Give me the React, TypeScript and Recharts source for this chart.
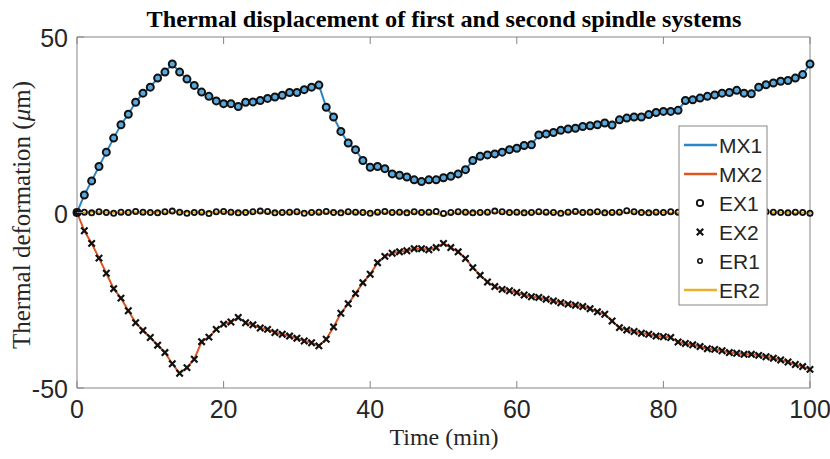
import React from 'react'
import { LineChart, Line, XAxis, YAxis } from 'recharts'

// time in minutes
const time = [
  0, 1, 2, 3, 4, 5, 6, 7, 8, 9,
  10, 11, 12, 13, 14, 15, 16, 17, 18, 19,
  20, 21, 22, 23, 24, 25, 26, 27, 28, 29,
  30, 31, 32, 33, 34, 35, 36, 37, 38, 39,
  40, 41, 42, 43, 44, 45, 46, 47, 48, 49,
  50, 51, 52, 53, 54, 55, 56, 57, 58, 59,
  60, 61, 62, 63, 64, 65, 66, 67, 68, 69,
  70, 71, 72, 73, 74, 75, 76, 77, 78, 79,
  80, 81, 82, 83, 84, 85, 86, 87, 88, 89,
  90, 91, 92, 93, 94, 95, 96, 97, 98, 99, 100,
]

const mx1 = [
  0, 5.0, 9.0, 13.1, 17.2, 21.2, 25.0, 28.0, 31.4, 34.0,
  35.7, 38.3, 40.0, 42.3, 40.0, 38.0, 36.2, 34.3, 33.1, 31.8,
  31.0, 31.0, 30.2, 31.4, 31.5, 31.9, 32.5, 32.9, 33.4, 34.2,
  34.2, 35.0, 35.7, 36.3, 30.0, 27.2, 23.1, 19.8, 17.9, 14.8,
  12.9, 13.1, 12.5, 11.0, 10.6, 10.1, 9.3, 8.8, 9.3, 9.3,
  9.9, 10.3, 11.0, 12.2, 14.8, 16.0, 16.4, 16.7, 17.2, 17.9,
  18.3, 19.1, 19.3, 22.1, 22.4, 22.8, 23.4, 23.8, 24.0, 24.5,
  24.7, 25.0, 25.5, 24.9, 26.4, 26.9, 27.2, 27.2, 27.9, 28.5,
  28.8, 28.8, 29.1, 31.9, 32.1, 32.6, 33.1, 33.5, 34.0, 34.2,
  34.8, 34.0, 33.8, 35.7, 36.4, 36.9, 37.4, 37.6, 38.3, 39.3, 42.3,
]

const mx2 = [
  0, -5.2, -8.8, -13.0, -17.3, -21.7, -24.4, -28.0, -31.4, -33.6,
  -35.6, -37.8, -39.9, -43.1, -45.8, -44.2, -41.8, -36.8, -35.5, -33.3,
  -31.8, -31.2, -29.9, -31.4, -32.0, -32.9, -33.3, -34.2, -34.7, -35.2,
  -35.8, -36.6, -37.1, -38.0, -36.1, -32.6, -28.7, -26.0, -23.1, -20.0,
  -17.6, -14.3, -12.5, -11.6, -11.2, -10.9, -10.3, -10.3, -10.6, -10.0,
  -8.8, -10.0, -11.2, -13.1, -15.7, -17.9, -19.8, -21.1, -21.9, -22.3,
  -22.8, -23.5, -24.0, -24.2, -24.7, -25.2, -25.7, -26.1, -26.4, -26.8,
  -27.4, -28.3, -29.0, -30.9, -32.8, -33.5, -33.9, -34.4, -34.7, -35.2,
  -35.4, -35.6, -36.9, -37.3, -37.7, -38.2, -38.8, -39.0, -39.4, -39.9,
  -40.1, -40.4, -40.4, -40.7, -41.1, -41.5, -42.0, -42.6, -43.3, -43.9, -44.7,
]

// measured points sit on the model curves
const ex1 = mx1
const ex2 = mx2

const er1 = [
  0, 0.1, -0.1, 0.2, 0, -0.2, 0.1, 0, 0.3, 0.1,
  0, -0.1, 0.2, 0.4, 0.1, -0.2, 0, 0.1, -0.3, 0.2,
  0.3, 0.1, -0.1, 0, 0.2, 0.4, 0.3, -0.1, 0, 0.1,
  0.2, -0.2, 0, 0.1, 0.3, 0, -0.1, 0.2, 0.1, 0,
  -0.2, 0.1, 0.3, 0, 0.1, -0.1, 0.2, 0, 0.1, 0.3,
  -0.3, 0, 0.2, 0.1, -0.1, 0, 0.1, 0.4, 0.2, 0,
  0.1, -0.1, 0, 0.2, 0.1, 0, -0.2, 0.1, 0.3, 0,
  0.1, 0.2, -0.1, 0, 0.1, 0.5, 0.2, 0, -0.1, 0.1,
  0, 0.2, 0.1, -0.1, 0, 0.1, 0.2, 0, -0.2, 0.1,
  0, 0.1, -0.1, 0, 0.2, 0.1, 0, -0.1, 0.1, 0, -0.2,
]

const er2 = [
  0, 0, 0.1, 0.1, 0, -0.1, -0.1, 0, 0.1, 0.1,
  0.1, 0, 0, 0.1, 0.2, 0.1, 0, 0, 0.1, 0.1,
  0.2, 0.1, 0, 0, 0.1, 0.1, 0, 0, 0, 0.1,
  0.1, 0, -0.1, -0.1, 0, 0.1, 0.1, 0, 0, 0,
  -0.1, -0.1, 0, 0, 0.1, 0.1, 0, 0, -0.1, -0.4,
  -0.9, -0.3, 0, 0.1, 0.1, 0, 0, 0, 0.1, 0.1,
  0, 0, -0.1, -0.1, -0.2, -0.1, 0, 0, 0.1, 0.1,
  0, 0, 0, -0.1, 0, 0, 0.1, 0.1, 0, 0,
  0, -0.1, -0.1, 0, 0, 0.1, 0.1, 0, 0, 0,
  0, -0.1, -0.1, 0, 0.1, 0, 0, -0.1, -0.2, -0.1, 0,
]

const xTicks = [0, 20, 40, 60, 80, 100]
const yTicks = [-50, 0, 50]
const legendNames = ['MX1', 'MX2', 'EX1', 'EX2', 'ER1', 'ER2']

const data = time.map((t, i) => ({
  t,
  mx1: mx1[i],
  mx2: mx2[i],
  ex1: ex1[i],
  ex2: ex2[i],
  er1: er1[i],
  er2: er2[i],
}))

const BLUE = '#2b86c6'
const ORANGE = '#dc5522'
const YELLOW = '#eab02c'
const FRAME = '#858585'
const SANS = "'Liberation Sans', Arial, sans-serif"
const SERIF = "'Liberation Serif', 'Times New Roman', serif"

function AxisTick(props: any) {
  const { x, y, payload, side } = props
  if (side === 'bottom') {
    return (
      <g>
        <line x1={x} y1={y} x2={x} y2={y - 7} stroke={FRAME} />
        <text x={x} y={y + 30} textAnchor="middle" fontSize={25} fontFamily={SANS} fill="#262626">
          {payload.value}
        </text>
      </g>
    )
  }
  if (side === 'top') return <line x1={x} y1={y} x2={x} y2={y + 7} stroke={FRAME} />
  if (side === 'left') {
    return (
      <g>
        <line x1={x} y1={y} x2={x + 7} y2={y} stroke={FRAME} />
        <text x={x - 9} y={y + 10} textAnchor="end" fontSize={25} fontFamily={SANS} fill="#262626">
          {payload.value}
        </text>
      </g>
    )
  }
  return <line x1={x} y1={y} x2={x - 7} y2={y} stroke={FRAME} />
}

const XMark = (p: any) => {
  const s = 3.2
  return (
    <path
      key={`x-${p.index}`}
      d={`M${p.cx - s},${p.cy - s}L${p.cx + s},${p.cy + s}M${p.cx - s},${p.cy + s}L${p.cx + s},${p.cy - s}`}
      stroke="#111"
      strokeWidth={2.2}
    />
  )
}

function LegendSymbol({ name, y }: { name: string; y: number }) {
  if (name === 'MX1') return <line x1={684} x2={717} y1={y} y2={y} stroke={BLUE} strokeWidth={2.5} />
  if (name === 'MX2') return <line x1={684} x2={717} y1={y} y2={y} stroke={ORANGE} strokeWidth={2.5} />
  if (name === 'ER2') return <line x1={684} x2={717} y1={y} y2={y} stroke={YELLOW} strokeWidth={2.5} />
  if (name === 'EX1') return <circle cx={700} cy={y} r={3.2} fill="none" stroke="#111" strokeWidth={1.8} />
  if (name === 'ER1') return <circle cx={700} cy={y} r={2.2} fill="none" stroke="#111" strokeWidth={1.6} />
  return <XMark cx={700} cy={y} index={0} />
}

export default function App() {
  return (
    <div style={{ position: 'absolute', left: 0, top: 0, width: 830, height: 459, background: '#fff' }}>
      <LineChart width={830} height={459} data={data} margin={{ top: 36, right: 19, bottom: 70, left: 0 }}>
        <XAxis
          dataKey="t"
          type="number"
          domain={[0, 100]}
          ticks={xTicks}
          interval={0}
          height={1}
          tickSize={0}
          tickMargin={0}
          tickLine={false}
          axisLine={{ stroke: FRAME }}
          tick={<AxisTick side="bottom" />}
        />
        <XAxis
          xAxisId="top"
          orientation="top"
          dataKey="t"
          type="number"
          domain={[0, 100]}
          ticks={xTicks}
          interval={0}
          height={1}
          tickSize={0}
          tickMargin={0}
          tickLine={false}
          axisLine={{ stroke: FRAME }}
          tick={<AxisTick side="top" />}
        />
        <YAxis
          type="number"
          domain={[-50, 50]}
          ticks={yTicks}
          interval={0}
          width={77}
          tickSize={0}
          tickMargin={0}
          tickLine={false}
          axisLine={{ stroke: FRAME }}
          tick={<AxisTick side="left" />}
        />
        <YAxis
          yAxisId="right"
          orientation="right"
          type="number"
          domain={[-50, 50]}
          ticks={yTicks}
          interval={0}
          width={1}
          tickSize={0}
          tickMargin={0}
          tickLine={false}
          axisLine={{ stroke: FRAME }}
          tick={<AxisTick side="right" />}
        />
        <Line dataKey="mx1" stroke={BLUE} strokeWidth={2} dot={false} activeDot={false} isAnimationActive={false} />
        <Line dataKey="mx2" stroke={ORANGE} strokeWidth={2} dot={false} activeDot={false} isAnimationActive={false} />
        <Line
          dataKey="ex1"
          stroke="none"
          dot={{ r: 3.5, stroke: '#111', strokeWidth: 2, fill: '#5aa8dc' }}
          activeDot={false}
          isAnimationActive={false}
        />
        <Line dataKey="ex2" stroke="none" dot={XMark} activeDot={false} isAnimationActive={false} />
        <Line
          dataKey="er1"
          stroke="none"
          dot={{ r: 2.6, stroke: '#111', strokeWidth: 1.8, fill: 'none' }}
          activeDot={false}
          isAnimationActive={false}
        />
        <Line dataKey="er2" stroke={YELLOW} strokeWidth={2} dot={false} activeDot={false} isAnimationActive={false} />
      </LineChart>

      <svg width={830} height={459} style={{ position: 'absolute', left: 0, top: 0, pointerEvents: 'none' }}>
        <text
          x={444}
          y={27}
          textAnchor="middle"
          fontSize={24}
          fontWeight="bold"
          fontFamily={SERIF}
          textLength={595}
          lengthAdjust="spacingAndGlyphs"
        >
          Thermal displacement of first and second spindle systems
        </text>
        <text x={444} y={445} textAnchor="middle" fontSize={24} fontFamily={SERIF} fill="#262626">
          Time (min)
        </text>
        <text transform="translate(30,215) rotate(-90)" textAnchor="middle" fontSize={25} fontFamily={SERIF} fill="#262626">
          Thermal deformation (<tspan fontStyle="italic">μ</tspan>m)
        </text>

        <rect x={679} y={126} width={88} height={179} fill="#fff" stroke={FRAME} />
        {legendNames.map((name, i) => {
          const y = 145 + i * 29
          return (
            <g key={name}>
              <LegendSymbol name={name} y={y} />
              <text x={719} y={y + 7.5} fontSize={21} fontFamily={SANS} fill="#262626">
                {name}
              </text>
            </g>
          )
        })}
      </svg>
    </div>
  )
}
